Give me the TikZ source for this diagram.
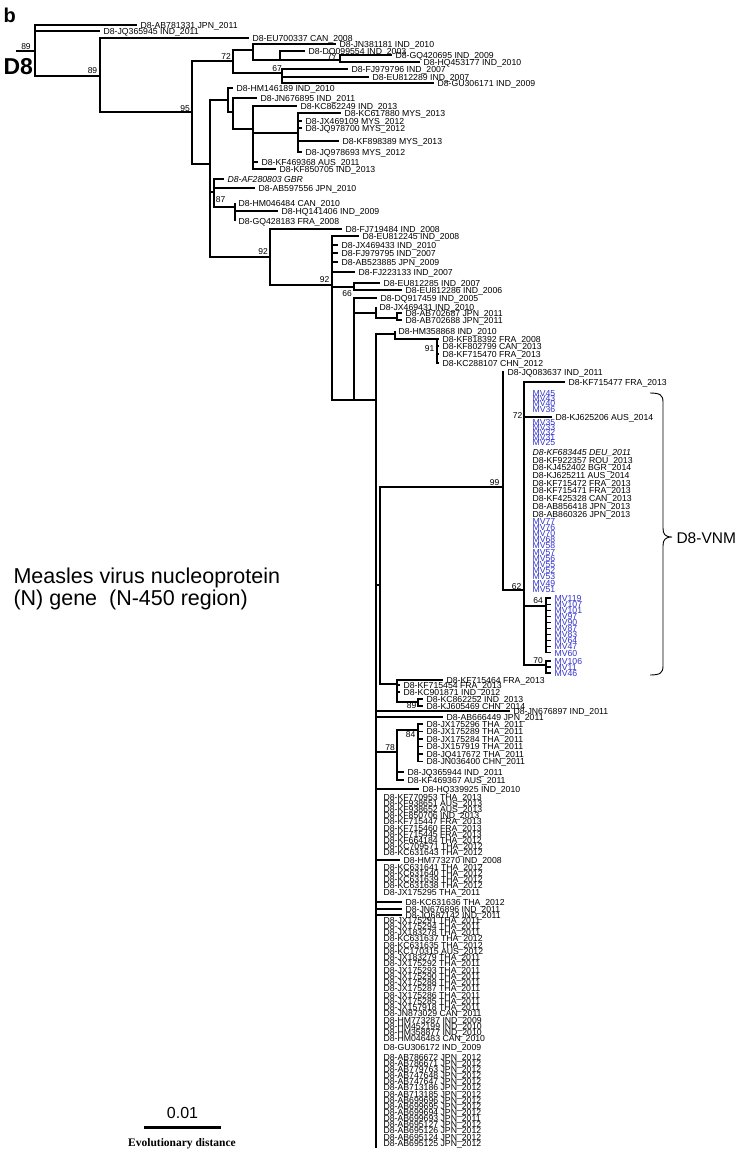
\documentclass[tikz,border=0pt]{standalone}
\usepackage{fontspec}
\setmainfont{Liberation Sans}
\newfontfamily\timesfont{Liberation Serif}
\definecolor{mvblue}{RGB}{51,51,204}

\begin{document}
\begin{tikzpicture}[x=1pt, y=-1pt, line width=1.1pt,
    tip/.style = {anchor=west, inner xsep=3pt, inner ysep=0pt, text height=6.2pt, text depth=0pt, font=\fontsize{8.7}{9}\selectfont},
    mv/.style = {tip, text=mvblue},
    boot/.style = {inner sep=0pt, font=\fontsize{8.5}{9}\selectfont}]
    \useasboundingbox (0,0) rectangle (747,1154);
    \node[anchor=base west, inner sep=0pt, font=\fontsize{20}{20}\selectfont\bfseries] (b) at (3,22) {b};
    \node[anchor=base west, inner sep=0pt, font=\fontsize{23}{23}\selectfont\bfseries] (d8) at (3,74) {D8};
    \coordinate (r) at (16,51);
    \coordinate (n0) at (35,51);
    \coordinate (n1) at (100,76);
    \coordinate (n2) at (192,112);
    \coordinate (n3) at (233,61);
    \coordinate (n4) at (253,50);
    \coordinate (n5) at (280,60);
    \coordinate (n6) at (340,60);
    \coordinate (n7) at (282,73);
    \coordinate (n8) at (210,164);
    \coordinate (u) at (228,100);
    \coordinate (u2) at (233,112);
    \coordinate (u3) at (253,129);
    \coordinate (u4) at (298,133);
    \coordinate (m) at (214,192);
    \coordinate (n87) at (235,207);
    \coordinate (nbig) at (270,257);
    \coordinate (n92) at (332,285);
    \coordinate (na) at (354,287);
    \coordinate (b66) at (354,400);
    \coordinate (jx) at (376,313);
    \coordinate (jxb) at (397,318);
    \coordinate (q) at (376,400);
    \coordinate (qend) at (376,1148);
    \coordinate (ha) at (395,334);
    \coordinate (n91) at (437,339);
    \coordinate (p) at (380,585);
    \coordinate (v99) at (503,487);
    \coordinate (v62) at (524,590);
    \coordinate (v64) at (546,606);
    \coordinate (v70) at (546,665);
    \coordinate (pk) at (397,684);
    \coordinate (n89) at (418,702);
    \coordinate (n78) at (397,752);
    \coordinate (n84) at (418,730);

    \node[tip] (ab781331) at (137,25) {D8-AB781331 JPN\_2011};
    \node[tip] (jq365945) at (100,31) {D8-JQ365945 IND\_2011};
    \node[tip] (eu700337) at (249,38) {D8-EU700337 CAN\_2008};
    \node[tip] (jn381181) at (336,44) {D8-JN381181 IND\_2010};
    \node[tip] (dq099554) at (305,51) {D8-DQ099554 IND\_2003};
    \node[tip] (gq420695) at (392,55) {D8-GQ420695 IND\_2009};
    \node[tip] (hq453177) at (420,62) {D8-HQ453177 IND\_2010};
    \node[tip] (fj979796) at (348,69) {D8-FJ979796 IND\_2007};
    \node[tip] (eu812289) at (369,77) {D8-EU812289 IND\_2007};
    \node[tip] (gu306171) at (434,83) {D8-GU306171 IND\_2009};
    \node[tip] (hm146189) at (233,88) {D8-HM146189 IND\_2010};
    \node[tip] (jn676895) at (257,98) {D8-JN676895 IND\_2011};
    \node[tip] (kc862249) at (297,106) {D8-KC862249 IND\_2013};
    \node[tip] (kc617880) at (341,113) {D8-KC617880 MYS\_2013};
    \node[tip] (jx469109) at (302,121) {D8-JX469109 MYS\_2012};
    \node[tip] (jq978700) at (302,128) {D8-JQ978700 MYS\_2012};
    \node[tip] (kf898389) at (339,141) {D8-KF898389 MYS\_2013};
    \node[tip] (jq978693) at (302,152) {D8-JQ978693 MYS\_2012};
    \node[tip] (kf469368) at (258,162) {D8-KF469368 AUS\_2011};
    \node[tip] (kf850705) at (276,169) {D8-KF850705 IND\_2013};
    \node[tip, font=\fontsize{8.7}{9}\selectfont\itshape] (af280803) at (224,179) {D8-AF280803 GBR};
    \node[tip] (ab597556) at (255,188) {D8-AB597556 JPN\_2010};
    \node[tip] (hm046484) at (235,203) {D8-HM046484 CAN\_2010};
    \node[tip] (hq141406) at (278,211) {D8-HQ141406 IND\_2009};
    \node[tip] (gq428183) at (235,221) {D8-GQ428183 FRA\_2008};
    \node[tip] (fj719484) at (342,229) {D8-FJ719484 IND\_2008};
    \node[tip] (eu812245) at (359,236) {D8-EU812245 IND\_2008};
    \node[tip] (jx469433) at (338,245) {D8-JX469433 IND\_2010};
    \node[tip] (fj979795) at (338,253) {D8-FJ979795 IND\_2007};
    \node[tip] (ab523885) at (338,262) {D8-AB523885 JPN\_2009};
    \node[tip] (fj223133) at (355,272) {D8-FJ223133 IND\_2007};
    \node[tip] (eu812285) at (380,283) {D8-EU812285 IND\_2007};
    \node[tip] (eu812286) at (402,290) {D8-EU812286 IND\_2006};
    \node[tip] (dq917459) at (377,298) {D8-DQ917459 IND\_2005};
    \node[tip] (jx469431) at (376,307) {D8-JX469431 IND\_2010};
    \node[tip] (ab702687) at (402,313) {D8-AB702687 JPN\_2011};
    \node[tip] (ab702688) at (402,320) {D8-AB702688 JPN\_2011};
    \node[tip] (hm358868) at (395,331) {D8-HM358868 IND\_2010};
    \node[tip] (kf818392) at (439,339) {D8-KF818392 FRA\_2008};
    \node[tip] (kf802799) at (439,346) {D8-KF802799 CAN\_2013};
    \node[tip] (kf715470) at (439,354) {D8-KF715470 FRA\_2013};
    \node[tip] (kc288107) at (439,363) {D8-KC288107 CHN\_2012};
    \node[tip] (jq083637) at (504,372) {D8-JQ083637 IND\_2011};
    \node[tip] (kf715477) at (565,382) {D8-KF715477 FRA\_2013};
    \node[tip] (kj625206) at (552,417) {D8-KJ625206 AUS\_2014};
    \node[tip] (kf715464) at (443,680) {D8-KF715464 FRA\_2013};
    \node[tip] (kf715454) at (400,685) {D8-KF715454 FRA\_2013};
    \node[tip] (kc901871) at (400,692) {D8-KC901871 IND\_2012};
    \node[tip] (kc862252) at (423,699) {D8-KC862252 IND\_2013};
    \node[tip] (kj605469) at (423,706) {D8-KJ605469 CHN\_2014};
    \node[tip] (jn676897) at (510,711) {D8-JN676897 IND\_2011};
    \node[tip] (ab666449) at (443,717) {D8-AB666449 JPN\_2011};
    \node[tip] (jq365944) at (404,772) {D8-JQ365944 IND\_2011};
    \node[tip] (kf469367) at (404,780) {D8-KF469367 AUS\_2011};
    \node[tip] (hq339925) at (419,789) {D8-HQ339925 IND\_2010};
    \node[tip] (hm773270) at (400,860) {D8-HM773270 IND\_2008};
    \node[tip] (kc631636) at (402,902) {D8-KC631636 THA\_2012};
    \node[tip] (jn676896) at (402,909) {D8-JN676896 IND\_2011};
    \node[tip] (jq687142) at (402,915) {D8-JQ687142 IND\_2011};
    \node[tip] (gu306172) at (380,1047) {D8-GU306172 IND\_2009};

    \foreach \lab [count=\i from 0] in {JX175296 THA\_2011, JX175289 THA\_2011, JX175284 THA\_2011, JX157919 THA\_2011, JQ417672 THA\_2011, JN036400 CHN\_2011}
        \node[tip] (t84\i) at (423,724+7.5*\i) {D8-\lab};
    \foreach \lab [count=\i from 0] in {KF770953 THA\_2013, KF938651 AUS\_2013, KF938652 AUS\_2013, KF850706 IND\_2013, KF715447 FRA\_2013, KF715460 FRA\_2013, KF715445 FRA\_2013, KF664184 THA\_2012, KC709571 THA\_2012, KC631643 THA\_2012}
        \node[tip] (qa\i) at (380,797+6.2*\i) {D8-\lab};
    \foreach \lab [count=\i from 0] in {KC631641 THA\_2012, KC631640 THA\_2012, KC631639 THA\_2012, KC631638 THA\_2012, JX175295 THA\_2011}
        \node[tip] (qb\i) at (380,867+6.25*\i) {D8-\lab};
    \foreach \lab [count=\i from 0] in {JX175291 THA\_2011, JX175294 THA\_2011, JX183278 THA\_2011, KC631637 THA\_2012, KC631635 THA\_2012, KC170315 AUS\_2012, JX183279 THA\_2011, JX175292 THA\_2011, JX175293 THA\_2011, JX175290 THA\_2011, JX175288 THA\_2011, JX175287 THA\_2011, JX175286 THA\_2011, JX175285 THA\_2011, JX157918 THA\_2011, JN873029 CAN\_2011, HM773287 IND\_2009, HM452199 IND\_2010, HM358877 IND\_2010, HM046483 CAN\_2010}
        \node[tip] (qc\i) at (380,920+6.25*\i) {D8-\lab};
    \foreach \lab [count=\i from 0] in {AB786672 JPN\_2012, AB786671 JPN\_2012, AB779763 JPN\_2012, AB747648 JPN\_2012, AB747647 JPN\_2012, AB713186 JPN\_2012, AB713185 JPN\_2012, AB699696 JPN\_2012, AB699695 JPN\_2012, AB699694 JPN\_2012, AB699693 JPN\_2011, AB695127 JPN\_2012, AB695126 JPN\_2012, AB695124 JPN\_2012, AB695125 JPN\_2012}
        \node[tip] (qd\i) at (380,1057+6.15*\i) {D8-\lab};

    \foreach \y/\lab [count=\i] in {393/MV45, 398/MV43, 403.5/MV40, 409/MV36, 422.5/MV35, 427.5/MV33, 432.5/MV32, 437.5/MV31, 442.5/MV25}
        \node[mv] (mva\i) at (529,\y) {\lab};
    \node[tip, font=\fontsize{8.7}{9}\selectfont\itshape] (kf683445) at (529,452) {D8-KF683445 DEU\_2011};
    \foreach \y/\lab [count=\i] in {460/{KF922357 ROU\_2013}, 467/{KJ452402 BGR\_2014}, 475/{KJ625211 AUS\_2014}, 483/{KF715472 FRA\_2013}, 490/{KF715471 FRA\_2013}, 498/{KF425328 CAN\_2013}, 506/{AB856418 JPN\_2013}, 514/{AB860326 JPN\_2013}}
        \node[tip] (vn\i) at (529,\y) {D8-\lab};
    \foreach \lab [count=\i from 0] in {MV77, MV76, MV70, MV68, MV58, MV57, MV56, MV55, MV52, MV53, MV49, MV51}
        \node[mv] (mvb\i) at (529,521+6.2*\i) {\lab};
    \foreach \lab [count=\i from 0] in {MV119, MV107, MV101, MV97, MV90, MV87, MV83, MV64, MV47, MV60}
        \node[mv] (mvc\i) at (551,598+6.1*\i) {\lab};
    \foreach \lab [count=\i from 0] in {MV106, MV11, MV46}
        \node[mv] (mvd\i) at (551,661+6*\i) {\lab};

    \draw (r) -- (n0);
    \draw (n0) |- (ab781331.west);
    \draw (n0) |- (jq365945.west);
    \draw (n0) |- (n1);
    \draw (n1) |- (eu700337.west);
    \draw (n1) |- (n2);
    \draw (n2) |- (n3);
    \draw (n2) |- (n8);
    \draw (n3) |- (n4);
    \draw (n3) |- (n7);
    \draw (n4) |- (jn381181.west);
    \draw (n4) |- (n5);
    \draw (n5) |- (dq099554.west);
    \draw (n5) |- (n6);
    \draw (n6) |- (gq420695.west);
    \draw (n6) |- (hq453177.west);
    \draw (n7) |- (fj979796.west);
    \draw (n7) |- (eu812289.west);
    \draw (n7) |- (gu306171.west);
    \draw (n8) |- (u);
    \draw (n8) |- (m);
    \draw (n8) |- (nbig);
    \draw (u) |- (hm146189.west);
    \draw (u) |- (u2);
    \draw (u2) |- (jn676895.west);
    \draw (u2) |- (u3);
    \draw (u3) |- (kc862249.west);
    \draw (u3) |- (u4);
    \draw (u3) |- (kf469368.west);
    \draw (u3) |- (kf850705.west);
    \foreach \t in {kc617880, jx469109, jq978700, kf898389, jq978693}
        \draw (u4) |- (\t.west);
    \draw (m) |- (af280803.west);
    \draw (m) |- (ab597556.west);
    \draw (m) |- (n87);
    \foreach \t in {hm046484, hq141406, gq428183}
        \draw (n87) |- (\t.west);
    \draw (nbig) |- (fj719484.west);
    \draw (nbig) |- (n92);
    \foreach \t in {eu812245, jx469433, fj979795, ab523885, fj223133}
        \draw (n92) |- (\t.west);
    \draw (n92) |- (na);
    \draw (n92) |- (b66);
    \draw (na) |- (eu812285.west);
    \draw (na) |- (eu812286.west);
    \draw (b66) |- (dq917459.west);
    \draw (b66) |- (jx);
    \draw (b66) -- (q);
    \draw (jx) |- (jx469431.west);
    \draw (jx) |- (jxb);
    \draw (jxb) |- (ab702687.west);
    \draw (jxb) |- (ab702688.west);
    \draw (q) |- (ha);
    \draw (q) -- (qend);
    \draw (ha) |- (hm358868.west);
    \draw (ha) |- (n91);
    \foreach \t in {kf818392, kf802799, kf715470, kc288107}
        \draw (n91) |- (\t.west);
    \draw (q) |- (p);
    \draw (p) |- (v99);
    \draw (p) |- (pk);
    \draw (v99) |- (jq083637.west);
    \draw (v99) |- (v62);
    \draw (v62) |- (kf715477.west);
    \draw (v62) |- (kj625206.west);
    \draw (v62) |- (v64);
    \draw (v62) |- (v70);
    \foreach \i in {0,...,9}
        \draw (v64) |- (mvc\i.west);
    \foreach \i in {0,1,2}
        \draw (v70) |- (mvd\i.west);
    \draw (pk) |- (kf715464.west);
    \draw (pk) |- (kf715454.west);
    \draw (pk) |- (kc901871.west);
    \draw (pk) |- (n89);
    \draw (n89) |- (kc862252.west);
    \draw (n89) |- (kj605469.west);
    \draw (q) |- (jn676897.west);
    \draw (q) |- (ab666449.west);
    \draw (q) |- (n78);
    \draw (n78) |- (n84);
    \draw (n78) |- (jq365944.west);
    \draw (n78) |- (kf469367.west);
    \foreach \i in {0,...,5}
        \draw (n84) |- (t84\i.west);
    \draw (q) |- (hq339925.west);
    \draw (q) |- (hm773270.west);
    \draw (q) |- (kc631636.west);
    \draw (q) |- (jn676896.west);
    \draw (q) |- (jq687142.west);

    \node[boot] (s1) at (26,47) {89};
    \node[boot] (s2) at (92.5,71) {89};
    \node[boot] (s3) at (185,109) {95};
    \node[boot] (s4) at (226,57) {72};
    \node[boot] (s5) at (332,57) {77};
    \node[boot] (s6) at (277,69) {67};
    \node[boot] (s7) at (220.5,200) {87};
    \node[boot] (s8) at (263,252) {92};
    \node[boot] (s9) at (324.5,280) {92};
    \node[boot] (s10) at (347,293.5) {66};
    \node[boot] (s11) at (429.5,349) {91};
    \node[boot] (s12) at (494.5,483) {99};
    \node[boot] (s13) at (517.5,416) {72};
    \node[boot] (s14) at (516.5,587) {62};
    \node[boot] (s15) at (538,601) {64};
    \node[boot] (s16) at (538,660.5) {70};
    \node[boot] (s17) at (411.5,705.5) {89};
    \node[boot] (s18) at (410.5,735) {84};
    \node[boot] (s19) at (390,747.5) {78};

    \draw[line width=0.9pt] (650,393) .. controls (660,393) and (663,395) .. (663,402) -- (663,528)
        .. controls (663,534) and (665,537) .. (672,537) .. controls (665,537) and (663,540) .. (663,546)
        -- (663,666) .. controls (663,673) and (660,675) .. (650,675);
    \node[anchor=base west, inner sep=0pt, font=\fontsize{15.5}{16}\selectfont] (vnm) at (676,543) {D8-VNM};

    \node[anchor=base west, inner sep=0pt, font=\fontsize{21.5}{24}\selectfont] (title1) at (13,583) {Measles virus nucleoprotein};
    \node[anchor=base west, inner sep=0pt, font=\fontsize{21.5}{24}\selectfont] (title2) at (13,605) {(N) gene\ \ (N-450 region)};

    \coordinate (sa) at (144,1127);
    \coordinate (sb) at (221,1127);
    \draw[line width=3pt] (sa) -- (sb);
    \node[anchor=base, inner sep=0pt, font=\fontsize{16}{16}\selectfont] (scale) at (182.5,1118) {0.01};
    \node[anchor=base, inner sep=0pt, font=\fontsize{11.5}{12}\timesfont\bfseries] (evo) at (182,1146) {Evolutionary distance};
\end{tikzpicture}
\end{document}
